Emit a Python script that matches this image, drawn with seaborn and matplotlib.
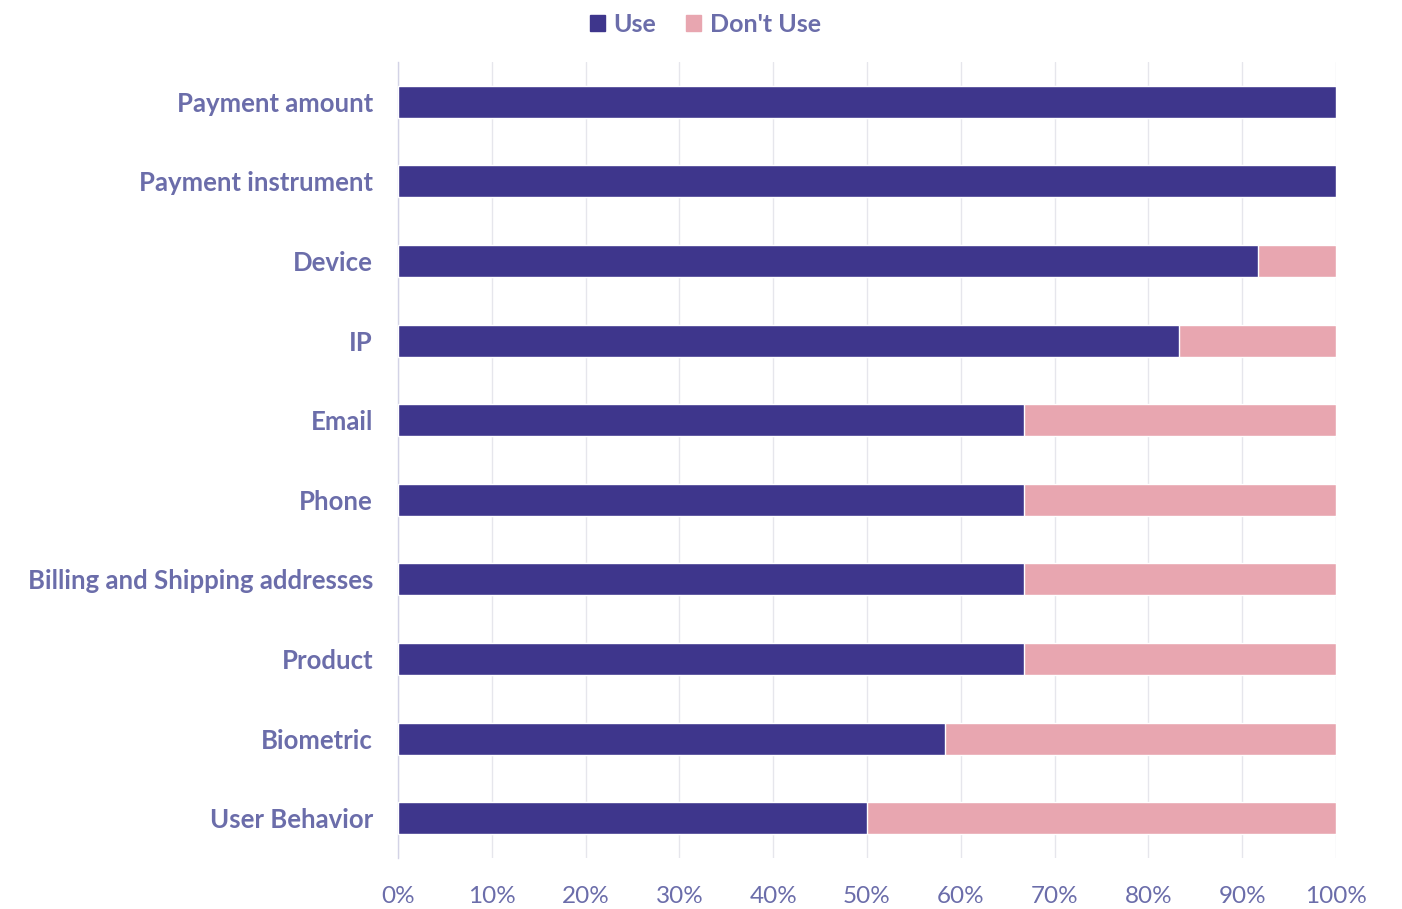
import matplotlib
matplotlib.use("Agg")
import matplotlib.pyplot as plt
import seaborn as sns
import pandas as pd
from matplotlib.ticker import PercentFormatter
from matplotlib.patches import Patch

categories = ["Payment amount", "Payment instrument", "Device", "IP", "Email", "Phone",
              "Billing and Shipping addresses", "Product", "Biometric", "User Behavior"]
use_pct = [100, 100, 91.7, 83.3, 66.7, 66.7, 66.7, 66.7, 58.3, 50.0]
dont_use_pct = [0, 0, 8.3, 16.7, 33.3, 33.3, 33.3, 33.3, 41.7, 50.0]

USE_COL = "#3E368C"
DONT_COL = "#E8A6B0"
TEXT_COL = "#6B6DAA"

df = pd.DataFrame({"cat": categories, "use": use_pct, "dont": dont_use_pct})
df["total"] = df["use"] + df["dont"]

sns.set_style("white")
plt.rcParams["font.family"] = ["Lato", "DejaVu Sans"]

fig = plt.figure(figsize=(14.02, 9.09), dpi=100)
ax = fig.add_axes([0.2839, 0.0561, 0.669, 0.8757])

# pink full bar underneath, navy "use" bar on top -> stacked look
sns.barplot(data=df, x="total", y="cat", color=DONT_COL, width=0.4, saturation=1, ax=ax, zorder=2)
sns.barplot(data=df, x="use", y="cat", color=USE_COL, width=0.4, saturation=1, ax=ax, zorder=3)

ax.set_xlim(0, 100)
ax.set_ylim(9.5, -0.5)
ax.set_xticks(range(0, 101, 10))
ax.xaxis.set_major_formatter(PercentFormatter(decimals=0))
ax.grid(axis="x", color="#E6E6EC", linewidth=1, zorder=0)
ax.set_axisbelow(True)
for s in ["top", "right", "bottom"]:
    ax.spines[s].set_visible(False)
ax.spines["left"].set_color("#D3D3E6")
ax.spines["left"].set_linewidth(1)
ax.set_xlabel("")
ax.set_ylabel("")
ax.tick_params(axis="x", length=0, pad=20, labelsize=17.5, labelcolor=TEXT_COL)
ax.tick_params(axis="y", length=0, pad=18, labelsize=18.5, labelcolor=TEXT_COL)
for lbl in ax.get_yticklabels():
    lbl.set_fontweight("bold")

handles = [Patch(color=USE_COL, label="Use"), Patch(color=DONT_COL, label="Don't Use")]
leg = fig.legend(handles=handles, loc="upper center", bbox_to_anchor=(0.503, 1.011), ncol=2,
                 frameon=False, fontsize=18, handlelength=0.6, handleheight=0.6,
                 handletextpad=0.35, columnspacing=1.2)
for t in leg.get_texts():
    t.set_color(TEXT_COL)
    t.set_fontweight("bold")

fig.savefig("out.png", dpi=100)
